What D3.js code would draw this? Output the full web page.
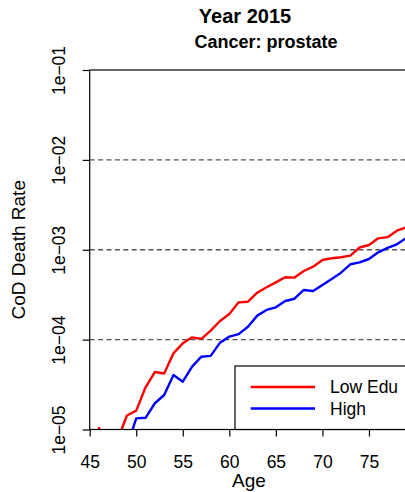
<!DOCTYPE html>
<html>
<head>
<meta charset="utf-8">
<script src="https://cdn.jsdelivr.net/npm/d3@7"></script>
<style>
  html, body { margin: 0; padding: 0; background: #fff; }
  svg { display: block; font-family: "Liberation Sans", Arial, Helvetica, sans-serif; }
</style>
</head>
<body>
<svg id="chart" width="405" height="492"></svg>
<script>
// ---- data ----
const ages = [45,46,47,48,49,50,51,52,53,54,55,56,57,58,59,60,61,62,63,64,65,66,67,68,69,70,71,72,73,74,75,76,77,78,79];
const lowEdu = [6e-6,1.04e-5,6e-6,7.7e-6,1.43e-5,1.62e-5,2.95e-5,4.36e-5,4.2e-5,7.05e-5,9.1e-5,1.06e-4,1.02e-4,1.26e-4,1.61e-4,1.93e-4,2.6e-4,2.64e-4,3.33e-4,3.82e-4,4.34e-4,4.94e-4,4.9e-4,5.8e-4,6.48e-4,7.69e-4,8.04e-4,8.24e-4,8.59e-4,1.06e-3,1.13e-3,1.34e-3,1.38e-3,1.63e-3,1.78e-3];
const high = [null,null,null,null,6.5e-6,1.33e-5,1.35e-5,1.96e-5,2.42e-5,4.04e-5,3.4e-5,5.0e-5,6.46e-5,6.6e-5,9.25e-5,1.08e-4,1.15e-4,1.39e-4,1.85e-4,2.14e-4,2.29e-4,2.69e-4,2.85e-4,3.57e-4,3.47e-4,4.05e-4,4.73e-4,5.56e-4,6.89e-4,7.25e-4,7.89e-4,9.36e-4,1.05e-3,1.15e-3,1.35e-3];
const xTicks = [45,50,55,60,65,70,75];
const yTicks = [1e-5,1e-4,1e-3,1e-2,1e-1];
const yTickLabels = ["1e\u221205","1e\u221204","1e\u221203","1e\u221202","1e\u221201"];
const gridVals = [1e-4,1e-3,1e-2];
const seriesNames = ["Low Edu","High"];
const seriesColors = ["#ff0000","#0000ff"];
const titleLines = ["Year 2015","Cancer: prostate"];

// ---- layout ----
const L = 89.7, R = 415.5, T = 70, B = 429.5;
const svg = d3.select("#chart");
const x = d3.scaleLinear().domain([45,80]).range([L,R]);
const y = d3.scaleLog().domain([1e-5,1e-1]).range([B,T]);

svg.append("defs").append("clipPath").attr("id","clip")
  .append("rect").attr("x",L).attr("y",T).attr("width",R-L).attr("height",B-T);

// grid lines
svg.append("g").selectAll("line").data(gridVals).join("line")
  .attr("x1",L).attr("x2",R).attr("y1",d=>y(d)).attr("y2",d=>y(d))
  .attr("stroke","#555").attr("stroke-width",1.3).attr("stroke-dasharray","5,3.4");

// series
const series = [lowEdu, high];
const line = d3.line()
  .defined(d => d[1] != null && d[1] > 0)
  .x(d => x(d[0])).y(d => y(d[1]));
const gLines = svg.append("g").attr("clip-path","url(#clip)");
series.forEach((s,i) => {
  gLines.append("path")
    .datum(ages.map((a,j)=>[a,s[j]]))
    .attr("d", line)
    .attr("fill","none")
    .attr("stroke", seriesColors[i])
    .attr("stroke-width", 2.4)
    .attr("stroke-linejoin","round");
});

// box
svg.append("rect").attr("x",L).attr("y",T).attr("width",R-L).attr("height",B-T)
  .attr("fill","none").attr("stroke","#000").attr("stroke-width",1.2);

// x axis
const xAxis = d3.axisBottom(x).tickValues(xTicks).tickSize(7).tickPadding(6).tickFormat(d3.format("d"));
const gx = svg.append("g").attr("transform",`translate(0,${B})`).call(xAxis);
gx.select(".domain").remove();
gx.selectAll(".tick line").attr("stroke","#000").attr("stroke-width",1.2);
gx.selectAll(".tick text").attr("font-size","17.5px").attr("fill","#000")
  .attr("font-family","Liberation Sans, Arial, sans-serif").attr("dy",null).attr("y",null)
  .attr("transform","translate(0,38)");

// y axis
const yAxis = d3.axisLeft(y).tickValues(yTicks).tickSize(7)
  .tickFormat((d,i)=>yTickLabels[i]);
const gy = svg.append("g").attr("transform",`translate(${L},0)`).call(yAxis);
gy.select(".domain").remove();
gy.selectAll(".tick line").attr("stroke","#000").attr("stroke-width",1.2);
gy.selectAll(".tick text").attr("font-size","17.5px").attr("fill","#000")
  .attr("font-family","Liberation Sans, Arial, sans-serif")
  .attr("x",null).attr("dy",null)
  .attr("text-anchor","middle")
  .attr("transform",`translate(${65-L},0) rotate(-90)`);

// axis titles
svg.append("text").attr("x",249).attr("y",487).attr("text-anchor","middle")
  .attr("font-size","19px").text("Age");
svg.append("text").attr("transform",`translate(25,${(T+B)/2}) rotate(-90)`)
  .attr("text-anchor","middle").attr("font-size","19px").text("CoD Death Rate");

// title
svg.append("text").attr("x",245).attr("y",23).attr("text-anchor","middle")
  .attr("font-size","20px").attr("font-weight","bold").text(titleLines[0]);
svg.append("text").attr("x",266).attr("y",48).attr("text-anchor","middle")
  .attr("font-size","18px").attr("font-weight","bold").text(titleLines[1]);

// legend
const lg = svg.append("g");
lg.append("rect").attr("x",235).attr("y",366).attr("width",R-235).attr("height",B-366)
  .attr("fill","#fff").attr("stroke","#000").attr("stroke-width",1.2);
seriesNames.forEach((n,i) => {
  const yy = 387 + i*21.5;
  lg.append("line").attr("x1",250.7).attr("x2",315).attr("y1",yy).attr("y2",yy)
    .attr("stroke",seriesColors[i]).attr("stroke-width",2.4);
  lg.append("text").attr("x",330).attr("y",yy+6.3).attr("font-size","17.5px").text(n);
});
</script>
</body>
</html>
